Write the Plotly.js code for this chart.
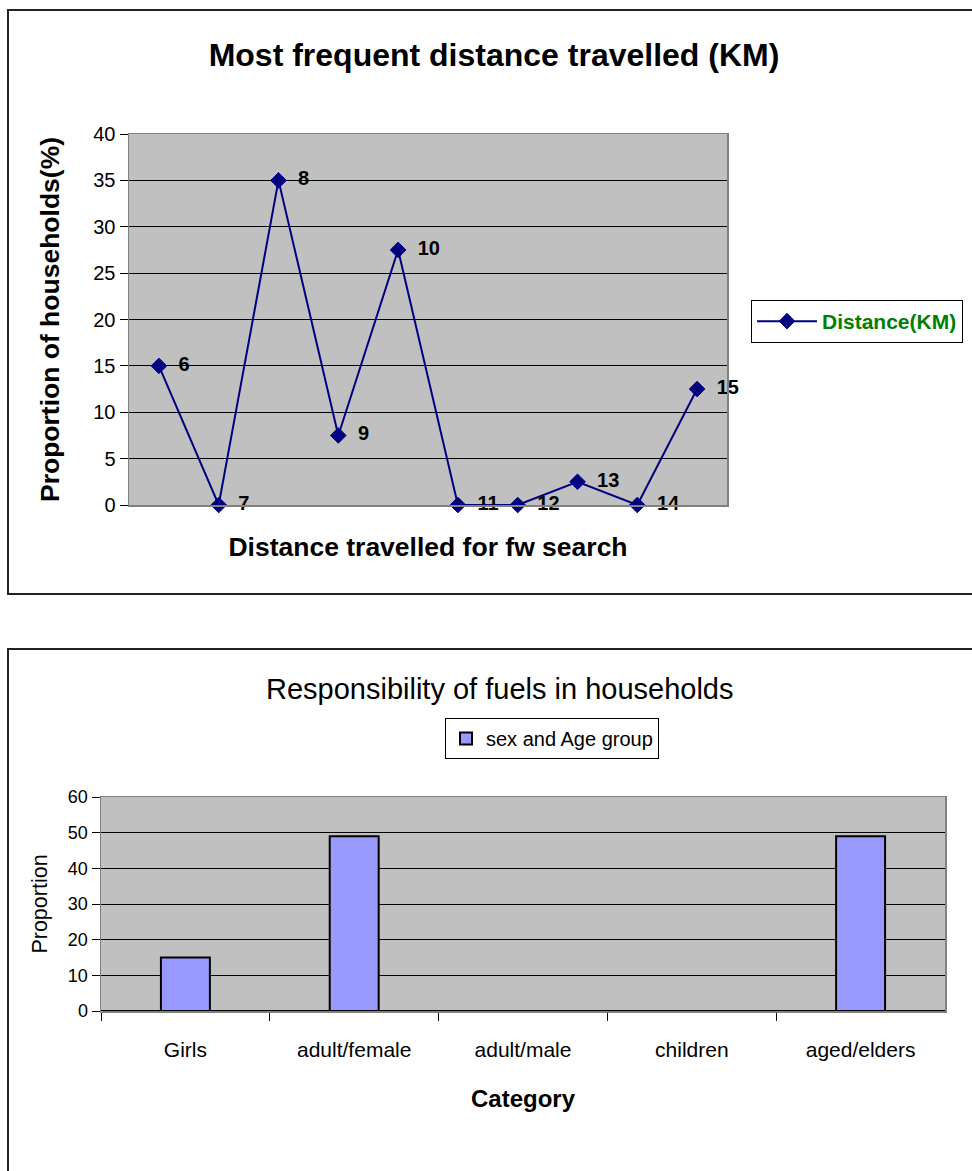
<!DOCTYPE html>
<html>
<head>
<meta charset="utf-8">
<script src="https://cdn.plot.ly/plotly-3.0.1.min.js"></script>
<style>html,body{margin:0;padding:0;background:#fff;}</style>
</head>
<body>
<div id="chart" style="width:972px;height:1171px;"></div>
<script>
// ---- Chart 1: Most frequent distance travelled (KM)
const distanceKm = ['6', '7', '8', '9', '10', '11', '12', '13', '14', '15'];
const householdsPct = [15, 0, 35, 7.5, 27.5, 0, 0, 2.5, 0, 12.5];

// ---- Chart 2: Responsibility of fuels in households
const categories = ['Girls', 'adult/female', 'adult/male', 'children', 'aged/elders'];
const proportions = [15, 49, 0, 0, 49];

const FONT = '"Liberation Sans", Arial, sans-serif';
const W = 972, H = 1171;
const px = v => v / W;
const py = v => 1 - v / H;

const traces = [
  {
    type: 'scatter',
    mode: 'lines+markers+text',
    name: 'Distance(KM)',
    x: distanceKm,
    y: householdsPct,
    text: distanceKm,
    texttemplate: '\u00a0\u00a0%{text}',
    textposition: 'middle right',
    textfont: {family: FONT, size: 20, color: '#000', weight: 'bold'},
    line: {color: '#000080', width: 2},
    marker: {symbol: 'diamond', size: 12, color: '#000080', line: {color: '#000080', width: 1}},
    xaxis: 'x', yaxis: 'y',
    legend: 'legend',
    cliponaxis: false,
    hoverinfo: 'x+y'
  },
  {
    type: 'bar',
    name: 'sex and Age group',
    x: categories,
    y: proportions,
    marker: {color: '#9999FF', line: {color: '#000', width: 2}},
    xaxis: 'x2', yaxis: 'y2',
    legend: 'legend2'
  }
];

const layout = {
  width: W, height: H,
  margin: {l: 0, r: 0, t: 0, b: 0},
  paper_bgcolor: '#fff',
  plot_bgcolor: '#C0C0C0',
  font: {family: FONT, color: '#000'},
  bargap: 0.71,
  title: {
    text: '<b>Most frequent distance travelled (KM)</b>',
    font: {family: FONT, size: 32, color: '#000'},
    x: px(494), xanchor: 'center', xref: 'paper',
    y: py(55), yanchor: 'middle', yref: 'paper'
  },
  xaxis: {
    domain: [px(129), px(727)],
    anchor: 'y',
    type: 'category',
    range: [-0.5, 9.5],
    showticklabels: false,
    ticks: '',
    showgrid: false,
    zeroline: false,
    showline: true, mirror: true, linecolor: '#808080', linewidth: 1.5,
    title: {text: '<b>Distance travelled for fw search</b>', font: {family: FONT, size: 26.5, color: '#000'}, standoff: 32}
  },
  yaxis: {
    domain: [py(505), py(134)],
    anchor: 'x',
    range: [0, 40],
    dtick: 5,
    tick0: 0,
    ticks: 'outside', ticklen: 8, tickcolor: '#000',
    tickfont: {family: FONT, size: 20, color: '#000'},
    showgrid: true, gridcolor: '#000', gridwidth: 1,
    zeroline: false,
    showline: true, mirror: true, linecolor: '#808080', linewidth: 1.5,
    title: {text: '<b>Proportion of households(%)</b>', font: {family: FONT, size: 26.5, color: '#000'}, standoff: 26}
  },
  xaxis2: {
    domain: [px(101), px(945)],
    anchor: 'y2',
    type: 'category',
    range: [-0.5, 4.5],
    tickson: 'boundaries',
    ticks: 'outside', ticklen: 8, tickcolor: '#000',
    ticklabelstandoff: 19,
    tickfont: {family: FONT, size: 21, color: '#000'},
    showgrid: false,
    zeroline: false,
    showline: true, mirror: true, linecolor: '#808080', linewidth: 1.5,
    title: {text: '<b>Category</b>', font: {family: FONT, size: 24, color: '#000'}, standoff: 30}
  },
  yaxis2: {
    domain: [py(1011), py(797)],
    anchor: 'x2',
    range: [0, 60],
    dtick: 10,
    ticks: 'outside', ticklen: 8, tickcolor: '#000',
    tickfont: {family: FONT, size: 18, color: '#000'},
    showgrid: true, gridcolor: '#000', gridwidth: 1,
    zeroline: true, zerolinecolor: '#000', zerolinewidth: 1.5,
    showline: true, mirror: true, linecolor: '#808080', linewidth: 1.5,
    title: {text: 'Proportion', font: {family: FONT, size: 21.5, color: '#000'}, standoff: 14}
  },
  legend: {
    x: px(751), xanchor: 'left', y: py(300), yanchor: 'top',
    xref: 'paper', yref: 'paper',
    bgcolor: '#fff', bordercolor: '#000', borderwidth: 1,
    itemwidth: 60,
    font: {family: FONT, size: 21, color: '#008000', weight: 'bold'}
  },
  legend2: {
    x: px(445), xanchor: 'left', y: py(718), yanchor: 'top',
    xref: 'paper', yref: 'paper',
    bgcolor: '#fff', bordercolor: '#000', borderwidth: 1,
    font: {family: FONT, size: 20, color: '#000'}
  },
  annotations: [
    {
      text: 'Responsibility of fuels in households',
      xref: 'paper', yref: 'paper',
      x: px(500), xanchor: 'center',
      y: py(689), yanchor: 'middle',
      showarrow: false,
      font: {family: FONT, size: 29, color: '#000'}
    }
  ],
  shapes: [
    {type: 'rect', xref: 'paper', yref: 'paper', x0: px(8), x1: 1.05, y0: py(594), y1: py(10),
     line: {color: '#222', width: 2}, fillcolor: 'rgba(0,0,0,0)', layer: 'below'},
    {type: 'rect', xref: 'paper', yref: 'paper', x0: px(8), x1: 1.05, y0: -0.05, y1: py(649),
     line: {color: '#222', width: 2}, fillcolor: 'rgba(0,0,0,0)', layer: 'below'}
  ],
  showlegend: true
};

Plotly.newPlot('chart', traces, layout, {displayModeBar: false, staticPlot: true});
</script>
</body>
</html>
